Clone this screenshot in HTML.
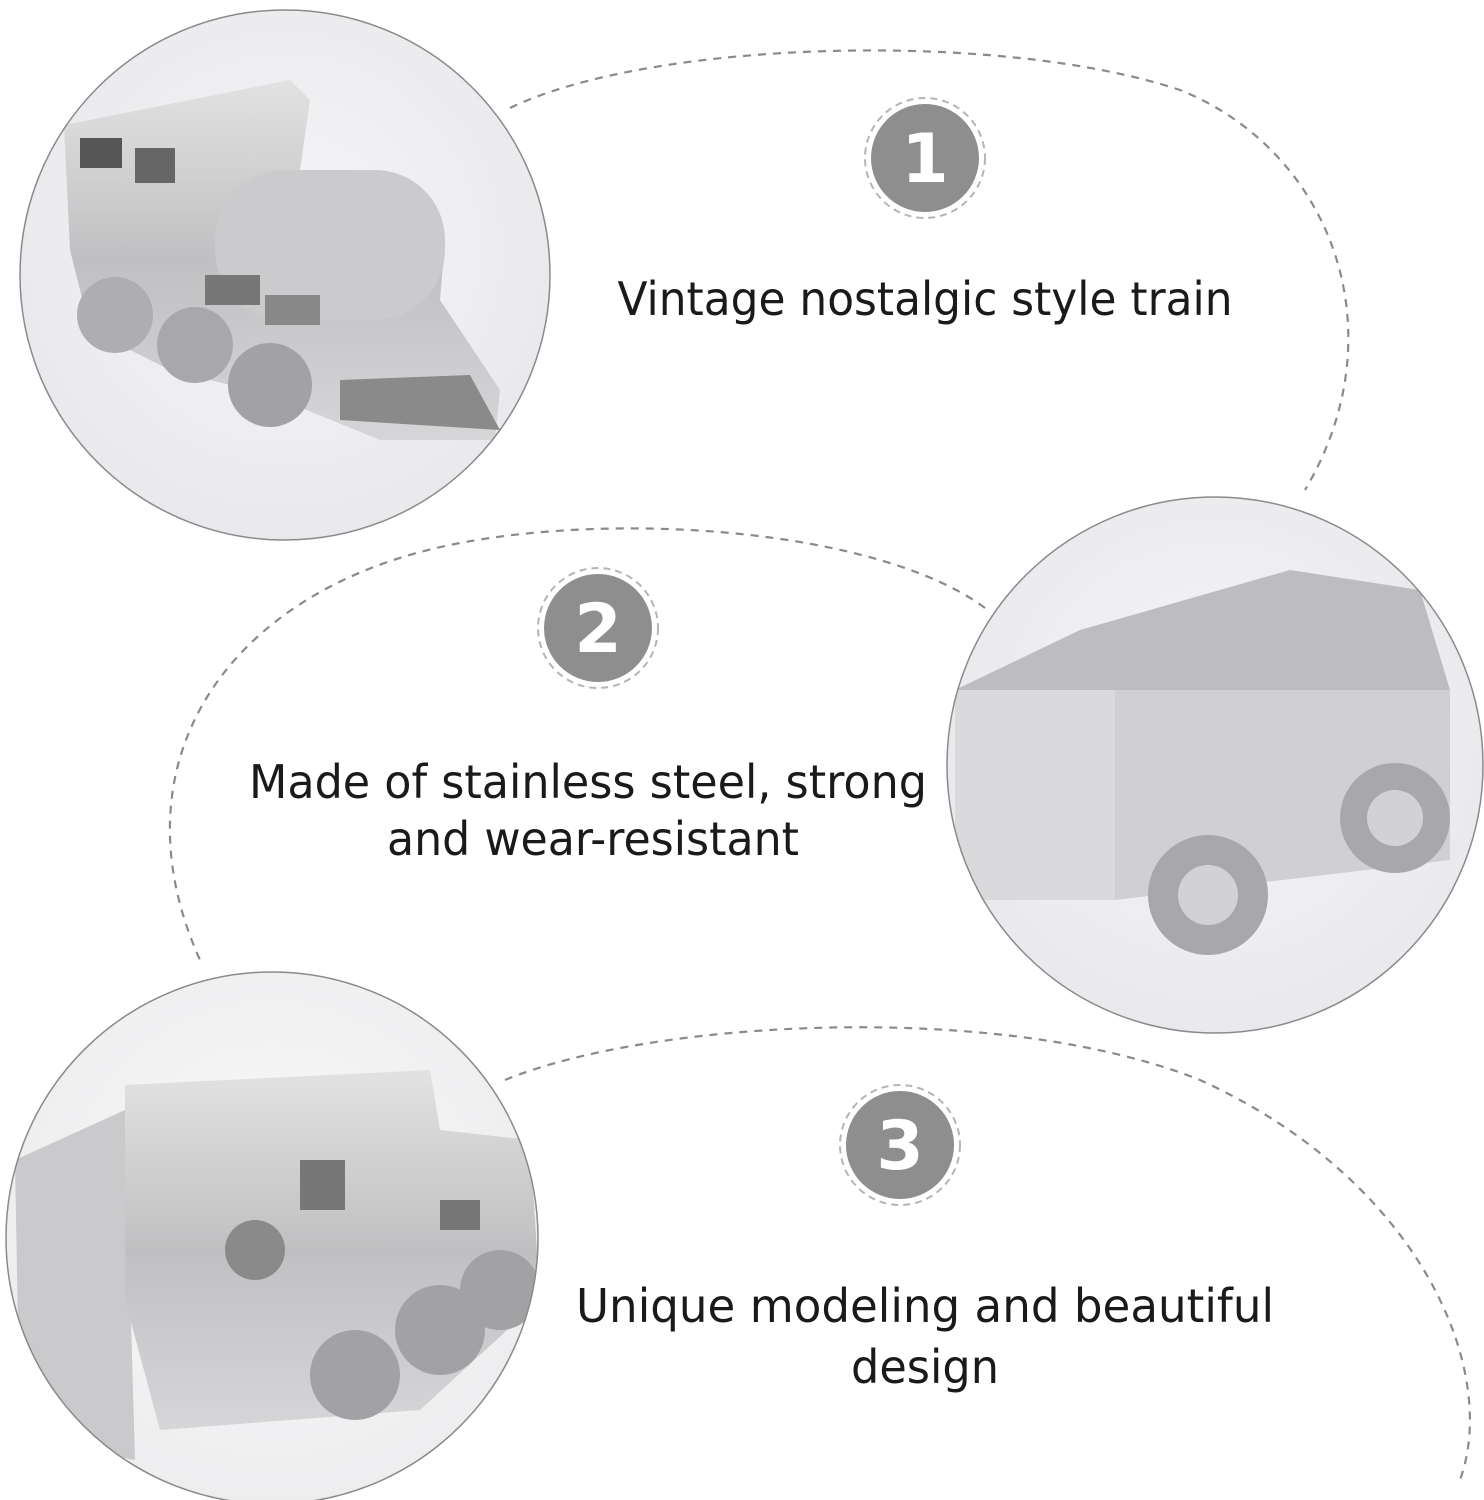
<!DOCTYPE html>
<html><head><meta charset="utf-8"><style>
html,body{margin:0;padding:0;background:#fff;}
svg{display:block}
text{font-family:"DejaVu Sans","Liberation Sans",sans-serif;}
</style></head><body>
<svg width="1484" height="1500" viewBox="0 0 1484 1500" xmlns="http://www.w3.org/2000/svg">
<defs>
<radialGradient id="bg" cx="50%" cy="45%" r="60%">
<stop offset="0" stop-color="#f6f6f8"/><stop offset="1" stop-color="#e8e8ec"/>
</radialGradient>
<radialGradient id="bg3" cx="50%" cy="45%" r="60%">
<stop offset="0" stop-color="#fafafa"/><stop offset="1" stop-color="#ececee"/>
</radialGradient>
<linearGradient id="metal" x1="0" y1="0" x2="0" y2="1">
<stop offset="0" stop-color="#e2e2e2"/><stop offset="0.5" stop-color="#c0c0c2"/><stop offset="1" stop-color="#d6d6d8"/>
</linearGradient>
<clipPath id="c1"><circle cx="285" cy="275" r="265"/></clipPath>
<clipPath id="c2"><circle cx="1215" cy="765" r="268"/></clipPath>
<clipPath id="c3"><circle cx="272" cy="1238" r="266"/></clipPath>
</defs>

<g fill="none" stroke="#8a8a8a" stroke-width="2.2" stroke-dasharray="8 7">
<path d="M510 108 C 650 40, 1000 30, 1180 90 C 1330 150, 1400 330, 1305 490"/>
<path d="M985 608 C 880 530, 620 510, 450 545 C 230 590, 110 760, 200 960"/>
<path d="M505 1080 C 650 1020, 1000 1000, 1200 1080 C 1420 1180, 1500 1370, 1460 1480"/>
</g>

<circle cx="285" cy="275" r="265" fill="url(#bg)"/>
<g clip-path="url(#c1)">
<path d="M64 125 L290 80 L310 100 L300 170 L420 190 L445 240 L440 300 L500 390 L495 440 L380 440 L270 395 L170 370 L90 330 L70 250 Z" fill="url(#metal)"/>
<rect x="215" y="170" width="230" height="150" rx="70" fill="#cbcbcd"/>
<rect x="80" y="138" width="42" height="30" fill="#555"/>
<rect x="135" y="148" width="40" height="35" fill="#666"/>
<rect x="205" y="275" width="55" height="30" fill="#777"/>
<rect x="265" y="295" width="55" height="30" fill="#888"/>
<circle cx="115" cy="315" r="38" fill="#aeaeb0"/>
<circle cx="195" cy="345" r="38" fill="#a8a8aa"/>
<circle cx="270" cy="385" r="42" fill="#a2a2a4"/>
<path d="M340 380 L470 375 L500 430 L340 420 Z" fill="#8a8a8a"/>
</g>
<circle cx="285" cy="275" r="265" fill="none" stroke="#8a8a8a" stroke-width="1.5"/>

<circle cx="1215" cy="765" r="268" fill="url(#bg)"/>
<g clip-path="url(#c2)">
<path d="M955 690 L1080 630 L1290 570 L1420 590 L1450 690 Z" fill="#bdbdbf"/>
<rect x="955" y="690" width="160" height="210" fill="#dadadc"/>
<path d="M1115 690 L1450 690 L1450 860 L1115 900 Z" fill="#d0d0d2"/>
<circle cx="1208" cy="895" r="60" fill="#a8a8aa"/>
<circle cx="1208" cy="895" r="30" fill="#d2d2d4"/>
<circle cx="1395" cy="818" r="55" fill="#a8a8aa"/>
<circle cx="1395" cy="818" r="28" fill="#d2d2d4"/>
</g>
<circle cx="1215" cy="765" r="268" fill="none" stroke="#8a8a8a" stroke-width="1.5"/>

<circle cx="272" cy="1238" r="266" fill="url(#bg3)"/>
<g clip-path="url(#c3)">
<path d="M15 1160 L125 1110 L135 1460 L20 1440 Z" fill="#cacacc"/>
<path d="M125 1085 L430 1070 L440 1130 L530 1140 L540 1300 L420 1410 L160 1430 L125 1300 Z" fill="url(#metal)"/>
<rect x="300" y="1160" width="45" height="50" fill="#777"/>
<rect x="440" y="1200" width="40" height="30" fill="#777"/>
<circle cx="255" cy="1250" r="30" fill="#8a8a8a"/>
<circle cx="355" cy="1375" r="45" fill="#a2a2a4"/>
<circle cx="440" cy="1330" r="45" fill="#a2a2a4"/>
<circle cx="500" cy="1290" r="40" fill="#a2a2a4"/>
</g>
<circle cx="272" cy="1238" r="266" fill="none" stroke="#8a8a8a" stroke-width="1.5"/>

<g>
<circle cx="925" cy="158" r="60" fill="none" stroke="#b5b5b5" stroke-width="2" stroke-dasharray="7 5"/>
<circle cx="925" cy="158" r="54" fill="#8e8e8e"/>
<text x="925" y="182" font-size="68" font-weight="bold" fill="#fff" text-anchor="middle">1</text>
<circle cx="598" cy="628" r="60" fill="none" stroke="#b5b5b5" stroke-width="2" stroke-dasharray="7 5"/>
<circle cx="598" cy="628" r="54" fill="#8e8e8e"/>
<text x="598" y="652" font-size="68" font-weight="bold" fill="#fff" text-anchor="middle">2</text>
<circle cx="900" cy="1145" r="60" fill="none" stroke="#b5b5b5" stroke-width="2" stroke-dasharray="7 5"/>
<circle cx="900" cy="1145" r="54" fill="#8e8e8e"/>
<text x="900" y="1169" font-size="68" font-weight="bold" fill="#fff" text-anchor="middle">3</text>
</g>

<g fill="#1a1a1a" font-size="46" text-anchor="middle">
<text x="925" y="315" textLength="615" lengthAdjust="spacingAndGlyphs">Vintage nostalgic style train</text>
<text x="588" y="798" textLength="678" lengthAdjust="spacingAndGlyphs">Made of stainless steel, strong</text>
<text x="593" y="855" textLength="412" lengthAdjust="spacingAndGlyphs">and wear-resistant</text>
<text x="925" y="1322" textLength="698" lengthAdjust="spacingAndGlyphs">Unique modeling and beautiful</text>
<text x="925" y="1383" textLength="148" lengthAdjust="spacingAndGlyphs">design</text>
</g>
</svg>
</body></html>
